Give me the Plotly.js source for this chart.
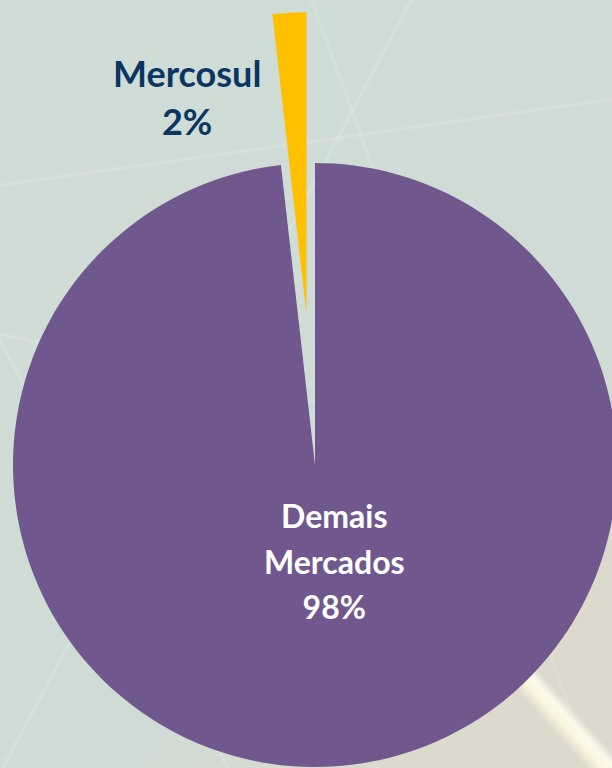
<!DOCTYPE html>
<html>
<head>
<meta charset="utf-8">
<script src="https://cdn.plot.ly/plotly-3.0.1.min.js"></script>
<style>
html, body { margin: 0; padding: 0; width: 612px; height: 768px; overflow: hidden; }
body {
    position: relative;
    background:
        linear-gradient(62deg, transparent 22%, rgba(255,255,255,.2) 22.3%, transparent 22.6%),
        linear-gradient(118deg, transparent 40%, rgba(255,255,255,.18) 40.3%, transparent 40.6%),
        linear-gradient(12deg, transparent 48%, rgba(255,255,255,.18) 48.3%, transparent 48.6%),
        linear-gradient(-8deg, transparent 78%, rgba(255,255,255,.18) 78.3%, transparent 78.6%),
        linear-gradient(70deg, transparent 66%, rgba(255,255,255,.15) 66.3%, transparent 66.6%),
        linear-gradient(140deg, #d0ddd6 0%, #cfdcd5 68%, #dcd9cd 84%);
}
#streak {
    position: absolute; left: 530px; top: 540px; width: 30px; height: 320px;
    transform: rotate(-42deg);
    background: linear-gradient(90deg, rgba(255,250,225,0), rgba(255,250,225,.85) 40%, rgba(255,255,240,.85) 70%, rgba(255,250,225,0));
}
#chart { position: absolute; left: -138px; top: 12px; width: 906px; height: 906px; }
</style>
</head>
<body>
<div id="streak"></div>
<div id="chart"></div>
<script>
var labels = ['Demais Mercados', 'Mercosul'];
var values = [98.2, 1.8];
var colors = ['#70588e', '#ffc000'];
var pulls = [0, 0.5];

var total = values.reduce(function(a, b) { return a + b; }, 0);
function labelText(i, size) {
    var pct = Math.round(values[i] / total * 100);
    return '<span style="font-size:' + size + 'px">' + labels[i].replace(' ', '<br>') + '<br>' + pct + '%</span>';
}

var pie = {
    type: 'pie',
    labels: labels,
    values: values,
    sort: false,
    direction: 'clockwise',
    rotation: 0,
    pull: pulls,
    marker: {colors: colors, line: {width: 0}},
    textinfo: 'none',
    hoverinfo: 'none',
    showlegend: false
};

var layout = {
    width: 906,
    height: 906,
    margin: {l: 0, r: 0, t: 0, b: 0},
    paper_bgcolor: 'rgba(0,0,0,0)',
    plot_bgcolor: 'rgba(0,0,0,0)',
    showlegend: false,
    annotations: [
        {x: 0.522, y: 0.394, xref: 'paper', yref: 'paper', showarrow: false,
         xanchor: 'center', yanchor: 'middle', text: labelText(0, 32),
         font: {family: 'Lato', size: 35, weight: 700, color: '#ffffff'}},
        {x: 0.359, y: 0.906, xref: 'paper', yref: 'paper', showarrow: false,
         xanchor: 'center', yanchor: 'middle', text: labelText(1, 36),
         font: {family: 'Lato', size: 37, weight: 700, color: '#0b3563'}}
    ]
};

Plotly.newPlot('chart', [pie], layout, {staticPlot: true});
</script>
</body>
</html>
